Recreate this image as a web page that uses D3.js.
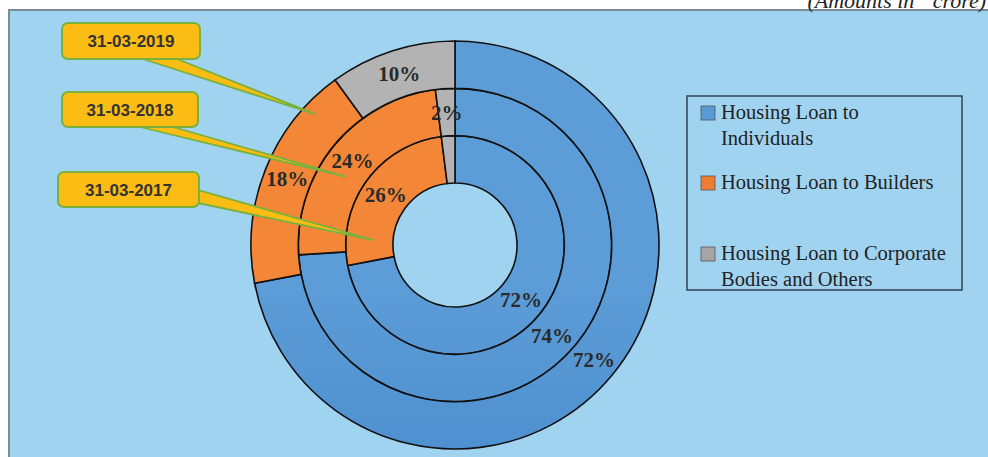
<!DOCTYPE html>
<html>
<head>
<meta charset="utf-8">
<script src="https://cdn.jsdelivr.net/npm/d3@7"></script>
<style>
  body { margin: 0; background: #fff; }
  svg { display: block; }
</style>
</head>
<body>
<div id="chart"></div>
<script>
// ring order: inner -> outer
const dates = ["31-03-2017", "31-03-2018", "31-03-2019"];
const categories = ["Housing Loan to Individuals", "Housing Loan to Builders", "Housing Loan to Corporate Bodies and Others"];
const legendLines = [["Housing Loan to", "Individuals"], ["Housing Loan to Builders"], ["Housing Loan to Corporate", "Bodies and Others"]];
const individuals = [72, 74, 72];
const builders = [26, 24, 18];
const corporate = [2, 2, 10];
const hiddenLabels = ["31-03-2017|2"];

window.onload = function () {
    const width = 988, height = 457;
    const cx = 455, cy = 245;

    const svg = d3.select("#chart")
        .append("svg")
        .attr("width", width)
        .attr("height", height);

    const defs = svg.append("defs");
    const grads = [
        ["gBlue", "#5c9cd7", "#3a7fc5"],
        ["gOrange", "#f38737", "#e8661a"],
        ["gGray", "#b3b3b3", "#999999"]
    ];
    grads.forEach(function (g) {
        const lg = defs.append("linearGradient").attr("id", g[0])
            .attr("gradientUnits", "userSpaceOnUse")
            .attr("x1", 0).attr("y1", cy - 204).attr("x2", 0).attr("y2", cy + 204);
        lg.append("stop").attr("offset", "0%").attr("stop-color", g[1]);
        lg.append("stop").attr("offset", "100%").attr("stop-color", g[2]);
    });
    const color = d3.scaleOrdinal().domain(categories).range(["url(#gBlue)", "url(#gOrange)", "url(#gGray)"]);
    const swatch = d3.scaleOrdinal().domain(categories).range(["#5b9bd5", "#ed7d31", "#a5a5a5"]);

    // frame
    svg.append("rect")
        .attr("x", 9).attr("y", 10)
        .attr("width", width + 20).attr("height", height + 20)
        .attr("fill", "#9fd3f0")
        .attr("stroke", "#7a8c9c")
        .attr("stroke-width", 2);

    svg.append("text")
        .attr("x", 986).attr("y", 8)
        .attr("text-anchor", "end")
        .attr("font-family", "Liberation Serif, serif")
        .attr("font-style", "italic")
        .attr("font-size", 22)
        .attr("fill", "#222")
        .text("(Amounts in ` crore)");

    const radius = d3.scaleLinear().domain([0, dates.length]).range([62, 204]);

    const pie = d3.pie().sort(null).value(d => d.value);

    const g = svg.append("g").attr("transform", "translate(" + cx + "," + cy + ")");

    dates.forEach(function (date, i) {
        const rows = [
            { key: categories[0], value: individuals[i] },
            { key: categories[1], value: builders[i] },
            { key: categories[2], value: corporate[i] }
        ];
        const arc = d3.arc().innerRadius(radius(i)).outerRadius(radius(i + 1));
        const arcs = pie(rows);

        g.append("g").selectAll("path")
            .data(arcs)
            .enter()
            .append("path")
            .attr("d", arc)
            .attr("fill", d => color(d.data.key))
            .attr("stroke", "#111")
            .attr("stroke-width", 1.6);

        g.append("g").selectAll("text")
            .data(arcs.filter((d, k) => hiddenLabels.indexOf(date + "|" + k) < 0))
            .enter()
            .append("text")
            .attr("transform", d => "translate(" + arc.centroid(d) + ")")
            .attr("text-anchor", "middle")
            .attr("dy", "0.35em")
            .attr("font-family", "Liberation Serif, serif")
            .attr("font-weight", "bold")
            .attr("font-size", 21)
            .attr("fill", "#2a2a2a")
            .text(d => d.data.value + "%");
    });

    // callouts pointing into the builders slice of each ring
    const callouts = [
        { date: "31-03-2019", ring: 2, bx: 62, by: 23, bw: 138, bh: 36, base: [[143, 59], [177, 59]], ang: 313, rf: 0.75 },
        { date: "31-03-2018", ring: 1, bx: 62, by: 92, bw: 136, bh: 35, base: [[140, 127], [173, 127]], ang: 302, rf: 0.42 },
        { date: "31-03-2017", ring: 0, bx: 58, by: 172, bw: 141, bh: 35, base: [[198, 190], [198, 203]], ang: 273.5, rf: 0.42 }
    ];
    const cg = svg.append("g");
    callouts.forEach(function (c) {
        const r = radius(c.ring) + c.rf * (radius(c.ring + 1) - radius(c.ring));
        const a = c.ang * Math.PI / 180;
        const tip = [cx + r * Math.sin(a), cy - r * Math.cos(a)];
        cg.append("polygon")
            .attr("points", [c.base[0], tip, c.base[1]].map(p => p.join(",")).join(" "))
            .attr("fill", "#fbbd13")
            .attr("stroke", "#79b13e")
            .attr("stroke-width", 1.8)
            .attr("stroke-linejoin", "round");
        cg.append("rect")
            .attr("x", c.bx).attr("y", c.by)
            .attr("width", c.bw).attr("height", c.bh)
            .attr("rx", 6)
            .attr("fill", "#fbbd13")
            .attr("stroke", "#79b13e")
            .attr("stroke-width", 2);
        cg.append("text")
            .attr("x", c.bx + c.bw / 2).attr("y", c.by + c.bh / 2)
            .attr("dy", "0.36em")
            .attr("text-anchor", "middle")
            .attr("font-family", "Liberation Sans, Arial, sans-serif")
            .attr("font-weight", "bold")
            .attr("font-size", 17)
            .attr("fill", "#333")
            .text(c.date);
    });

    // legend
    const lg = svg.append("g");
    lg.append("rect")
        .attr("x", 687).attr("y", 96)
        .attr("width", 275).attr("height", 194)
        .attr("fill", "none")
        .attr("stroke", "#2f4050")
        .attr("stroke-width", 1.5);
    const itemY = [113, 183, 254];
    categories.forEach(function (cat, i) {
        lg.append("rect")
            .attr("x", 701).attr("y", itemY[i] - 7)
            .attr("width", 14).attr("height", 14)
            .attr("fill", swatch(cat))
            .attr("stroke", "#555")
            .attr("stroke-width", 0.8);
        legendLines[i].forEach(function (line, j) {
            lg.append("text")
                .attr("x", 721).attr("y", itemY[i] + 6 + j * 26)
                .attr("font-family", "Liberation Serif, serif")
                .attr("font-size", 20.5)
                .attr("fill", "#222")
                .text(line);
        });
    });
};
</script>
</body>
</html>
